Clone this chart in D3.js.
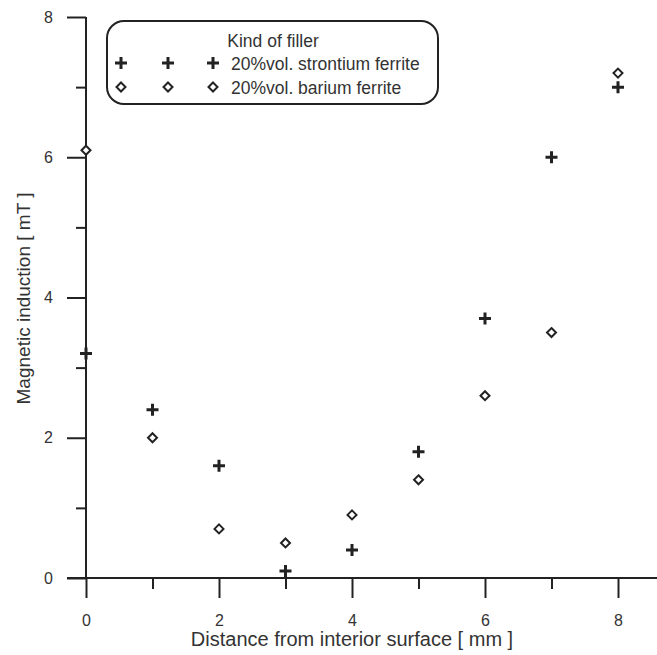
<!DOCTYPE html>
<html>
<head>
<meta charset="utf-8">
<script src="https://cdn.jsdelivr.net/npm/d3@7"></script>
<style>
  html, body { margin: 0; padding: 0; background: #fff; }
  svg { display: block; }
  text { font-family: "Liberation Sans", Arial, sans-serif; fill: #333; }
</style>
</head>
<body>
<svg id="chart" width="657" height="655"></svg>
<script>
// Measurement positions [mm]
const distances = [0, 1, 2, 3, 4, 5, 6, 7, 8];
// Magnetic induction [mT] per filler
const strontium = [3.2, 2.4, 1.6, 0.1, 0.4, 1.8, 3.7, 6.0, 7.0];
const barium = [6.1, 2.0, 0.7, 0.5, 0.9, 1.4, 2.6, 3.5, 7.2];
const seriesNames = ["20%vol. strontium ferrite", "20%vol. barium ferrite"];
const legendTitle = "Kind of filler";
const xMajorTicks = [0, 2, 4, 6, 8];
const xMinorTicks = [1, 3, 5, 7];
const yMajorTicks = [0, 2, 4, 6, 8];
const yMinorTicks = [1, 3, 5, 7];
const xTitle = "Distance from interior surface [ mm ]";
const yTitle = "Magnetic induction [ mT ]";

const svg = d3.select("#chart");
const ink = "#222";

const x = d3.scaleLinear().domain([0, 8]).range([86, 618]);
const y = d3.scaleLinear().domain([0, 8]).range([578, 17]);

// X axis: major ticks long, minor ticks short, both pointing down
const gx = svg.append("g").attr("transform", `translate(0,${y(0)})`);
gx.append("line").attr("x1", 67).attr("x2", 657).attr("y1", 0).attr("y2", 0)
  .attr("stroke", ink).attr("stroke-width", 2);
gx.call(g => g.append("g").call(
    d3.axisBottom(x).tickValues(xMajorTicks).tickSize(20).tickPadding(17).tickFormat(d3.format("d")))
  .call(a => a.select(".domain").remove()));
gx.call(g => g.append("g").call(
    d3.axisBottom(x).tickValues(xMinorTicks).tickSize(11).tickFormat(""))
  .call(a => a.select(".domain").remove()));

// Y axis: ticks pointing left
const gy = svg.append("g").attr("transform", `translate(${x(0)},0)`);
gy.append("line").attr("x1", 0).attr("x2", 0).attr("y1", y(8)).attr("y2", y(0))
  .attr("stroke", ink).attr("stroke-width", 2);
gy.call(g => g.append("g").call(
    d3.axisLeft(y).tickValues(yMajorTicks).tickSize(19).tickPadding(14).tickFormat(d3.format("d")))
  .call(a => a.select(".domain").remove()));
gy.call(g => g.append("g").call(
    d3.axisLeft(y).tickValues(yMinorTicks).tickSize(10).tickFormat(""))
  .call(a => a.select(".domain").remove()));

svg.selectAll(".tick line").attr("stroke", ink).attr("stroke-width", 2);
svg.selectAll(".tick text").attr("font-size", 16).attr("fill", "#2c2c2c")
  .style("font-family", "'Liberation Sans', Arial, sans-serif");

// Axis titles
svg.append("text").attr("x", 352).attr("y", 646)
  .attr("text-anchor", "middle").attr("font-size", 20).text(xTitle);
svg.append("text").attr("transform", `translate(30,${(y(0) + y(8)) / 2 + 1}) rotate(-90)`)
  .attr("text-anchor", "middle").attr("font-size", 19).text(yTitle);

// Marker shapes
const plusPath = s => `M${-s},0H${s}M0,${-s}V${s}`;
const diamondPath = s => `M0,${-s}L${s},0L0,${s}L${-s},0Z`;

function drawPlus(sel) {
  sel.append("path").attr("d", plusPath(6)).attr("stroke", ink)
    .attr("stroke-width", 3).attr("fill", "none");
}
function drawDiamond(sel) {
  sel.append("path").attr("d", diamondPath(4.5)).attr("stroke", ink)
    .attr("stroke-width", 2).attr("fill", "#fff");
}

const pts = svg.append("g");
pts.selectAll(".sr").data(distances).join("g").attr("class", "sr")
  .attr("transform", (d, i) => `translate(${x(d)},${y(strontium[i])})`)
  .each(function () { drawPlus(d3.select(this)); });
pts.selectAll(".ba").data(distances).join("g").attr("class", "ba")
  .attr("transform", (d, i) => `translate(${x(d)},${y(barium[i])})`)
  .each(function () { drawDiamond(d3.select(this)); });

// Legend
const lg = svg.append("g");
lg.append("rect").attr("x", 107).attr("y", 21).attr("width", 331).attr("height", 83)
  .attr("rx", 17).attr("ry", 17).attr("fill", "#fff")
  .attr("stroke", ink).attr("stroke-width", 2);
lg.append("text").attr("x", 273).attr("y", 47).attr("text-anchor", "middle")
  .attr("font-size", 17.5).text(legendTitle);
const rows = [{ name: seriesNames[0], draw: drawPlus, yy: 63 },
              { name: seriesNames[1], draw: drawDiamond, yy: 87 }];
const markerXs = [121, 168, 213];
rows.forEach(r => {
  markerXs.forEach(mx => {
    const g = lg.append("g").attr("transform", `translate(${mx},${r.yy})`);
    r.draw(g);
  });
  lg.append("text").attr("x", 231).attr("y", r.yy + 6.5).attr("font-size", 17.5).text(r.name);
});
</script>
</body>
</html>
